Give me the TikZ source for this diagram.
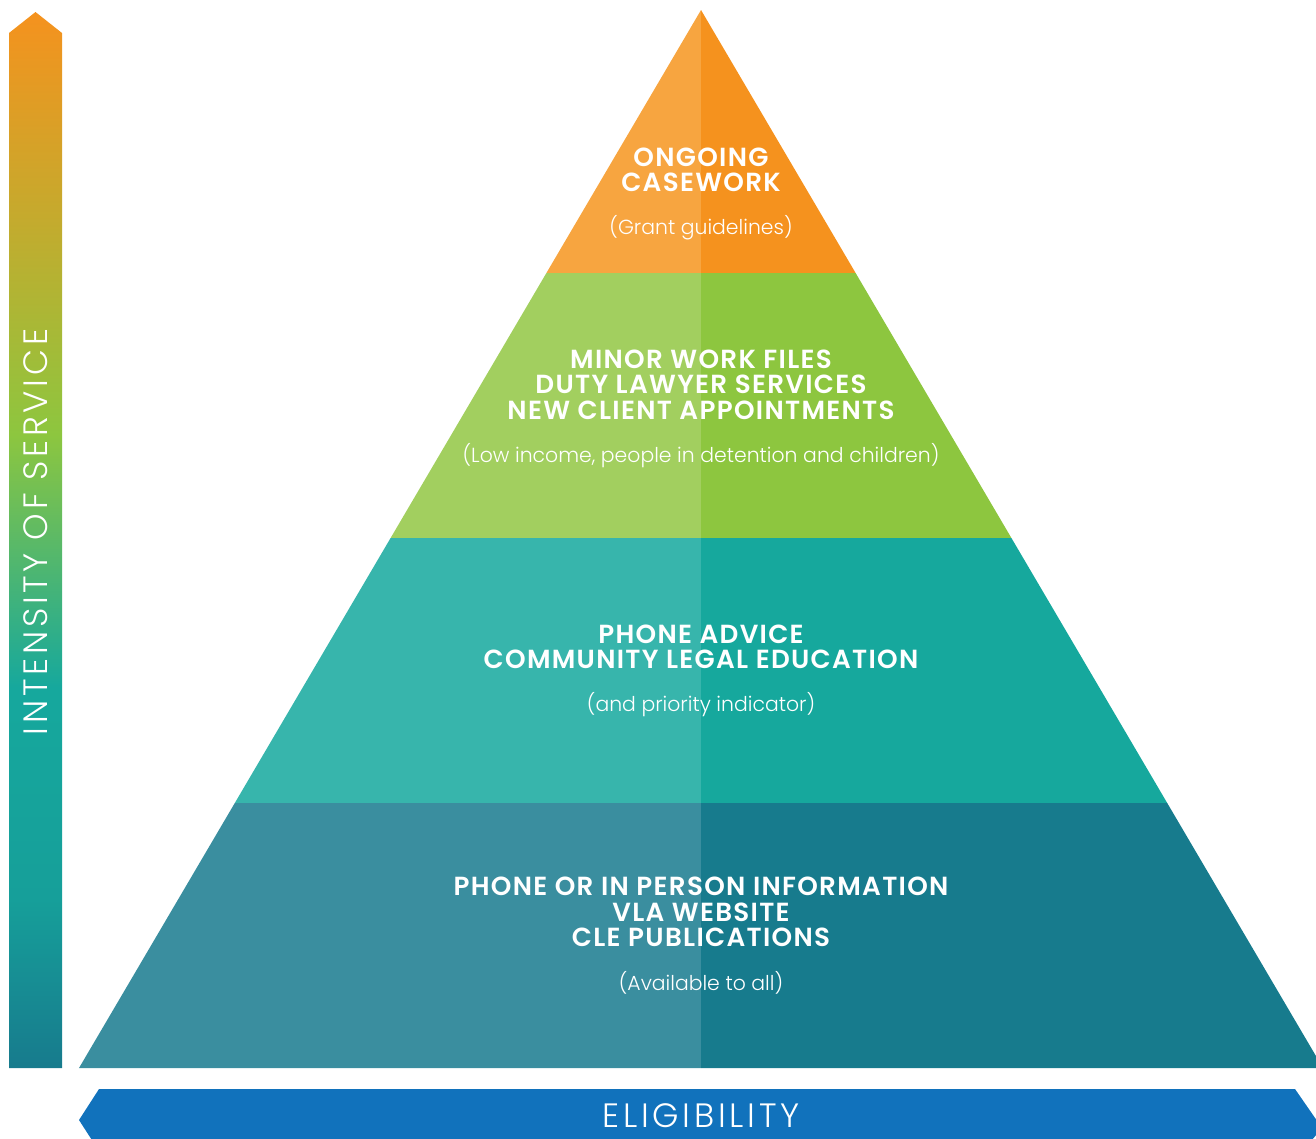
\documentclass[tikz,border=0pt]{standalone}
\usepackage{fontspec}
\setmainfont{Poppins}
\newfontfamily\headfont{Poppins SemiBold}[LetterSpace=5]
\newfontfamily\lightfont{Poppins Light}
\newfontfamily\widefont{Poppins Light}[LetterSpace=11]

\definecolor{orangeL}{HTML}{F7A540}
\definecolor{orangeR}{HTML}{F5921E}
\definecolor{greenL}{HTML}{A2CF5F}
\definecolor{greenR}{HTML}{8DC63F}
\definecolor{tealL}{HTML}{37B5AC}
\definecolor{tealR}{HTML}{16A89D}
\definecolor{deepL}{HTML}{3A8E9F}
\definecolor{deepR}{HTML}{177B8D}
\definecolor{eligible}{HTML}{1172BC}

% orange at the tip of the arrow, dark teal at its foot
\pgfdeclareverticalshading{intensity}{100bp}{%
  color(0bp)=(deepR);
  color(25bp)=(deepR);
  color(33bp)=(tealR!80!deepR);
  color(43bp)=(tealR);
  color(55bp)=(greenR);
  color(65.6bp)=(orangeR!55!greenR);
  color(75bp)=(orangeR);
  color(100bp)=(orangeR)}

\begin{document}
\begin{tikzpicture}[x=0.01cm,y=-0.01cm,
  head/.style={text=white,align=center,inner sep=0pt,
    font=\headfont\fontsize{7.45}{7.2}\selectfont},
  note/.style={text=white,inner sep=0pt,
    font=\lightfont\fontsize{5.8}{7}\selectfont}]
\useasboundingbox (0,0) rectangle (1316,1138);
\clip (0,0) rectangle (1316,1138);

% pyramid bands, the left half a shade lighter
\foreach \ya/\yb/\cl/\cr in {10/273/orangeL/orangeR,273/538/greenL/greenR,
    538/803/tealL/tealR,803/1068/deepL/deepR}{
  \pgfmathsetmacro\wa{(\ya-10)*0.5879}
  \pgfmathsetmacro\wb{(\yb-10)*0.5879}
  \fill[\cl] (701-\wa,\ya) -- (701,\ya) -- (701,\yb) -- (701-\wb,\yb) -- cycle;
  \fill[\cr] (701,\ya) -- (701+\wa,\ya) -- (701+\wb,\yb) -- (701,\yb) -- cycle;
}

% intensity arrow
\shade[shading=intensity] (9,1068) -- (9,33) -- (35.5,12) -- (62,33) -- (62,1068) -- cycle;
\node[text=white,inner sep=0pt,rotate=90,font=\widefont\fontsize{9.6}{10}\selectfont]
  (intensity) at (36,532) {INTENSITY OF SERVICE};

% eligibility arrow
\fill[eligible] (79,1120) -- (99,1089) -- (1295,1089) -- (1322,1128)
  -- (1295,1160) -- (99,1151) -- cycle;
\node[text=white,inner sep=0pt,font=\widefont\fontsize{9.6}{10}\selectfont]
  (eligibility) at (701,1116) {ELIGIBILITY};

\node[head] (casework) at (701,169.5) {ONGOING\\CASEWORK};
\node[note] (casenote) at (701,228) {(Grant guidelines)};

\node[head] (minor) at (701,384.5) {MINOR WORK FILES\\DUTY LAWYER SERVICES\\NEW CLIENT APPOINTMENTS};
\node[note] (minornote) at (701,456) {(Low income, people in detention and children)};

\node[head] (advice) at (701,647) {PHONE ADVICE\\COMMUNITY LEGAL EDUCATION};
\node[note] (advicenote) at (701,705) {(and priority indicator)};

\node[head] (info) at (701,912) {PHONE OR IN PERSON INFORMATION\\VLA WEBSITE\\CLE PUBLICATIONS};
\node[note] (infonote) at (701,983) {(Available to all)};
\end{tikzpicture}
\end{document}
